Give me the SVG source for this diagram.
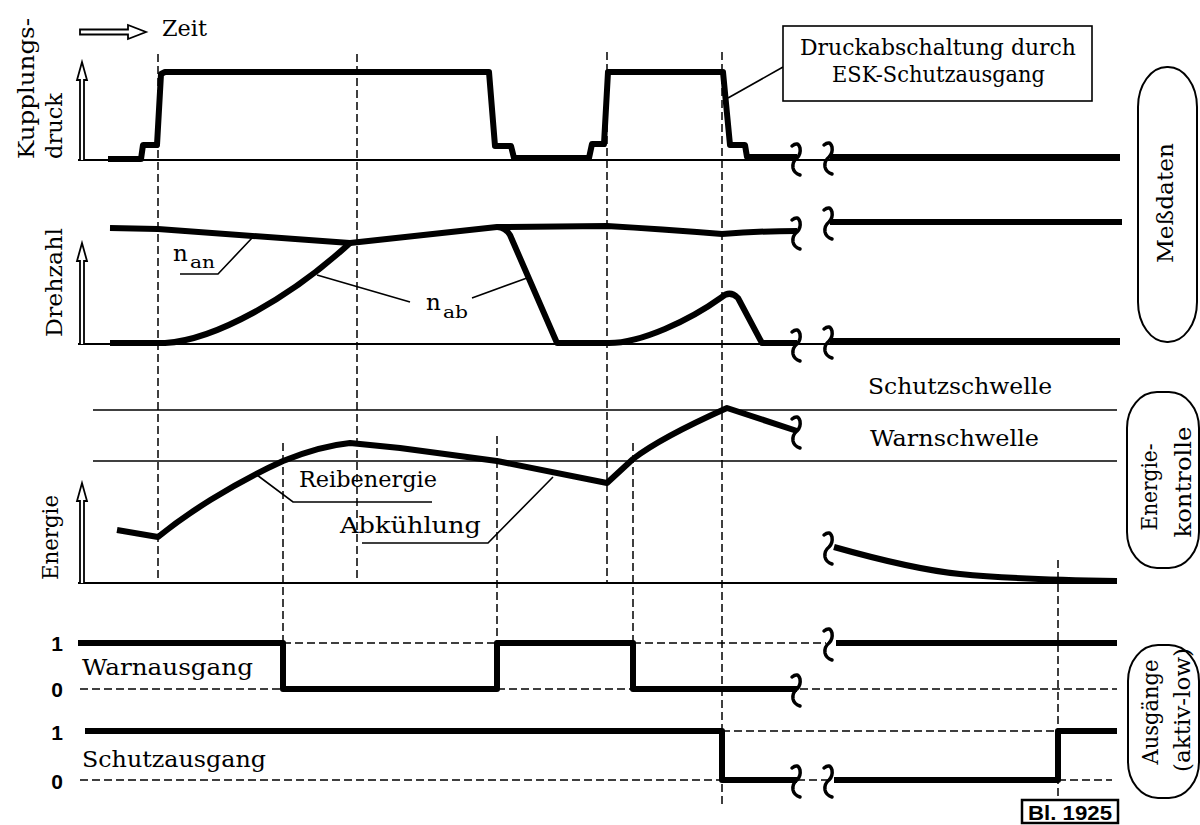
<svg xmlns="http://www.w3.org/2000/svg" width="1200" height="825" viewBox="0 0 1200 825">
<style>
.bg{fill:#fff}
.thin{fill:none;stroke:#000;stroke-width:1.6}
.base{fill:none;stroke:#000;stroke-width:2}
.thick{fill:none;stroke:#000;stroke-width:6;stroke-linejoin:round;stroke-linecap:butt}
.dash{fill:none;stroke:#000;stroke-width:1.5;stroke-dasharray:8 4}
.brk{fill:none;stroke:#000;stroke-width:3.5;stroke-linecap:round}
.hollow{fill:#fff;stroke:#000;stroke-width:1.8;stroke-linejoin:miter}
.t{font-family:"DejaVu Serif","Liberation Serif",serif;font-size:23px;fill:#000}
.sub{font-family:"DejaVu Serif","Liberation Serif",serif;font-size:17px;fill:#000}
.b{font-family:"Liberation Sans",Arial,sans-serif;font-weight:bold;font-size:21px;fill:#000}
.pill{fill:#fff;stroke:#000;stroke-width:2}
</style>
<defs>
<path id="brk" d="M-5,-12 Q1,-17 3,-10 Q4,-4 0,0 Q-5,4 -4,10 Q-3,15 3,17"/>
</defs>
<rect class="bg" x="0" y="0" width="1200" height="825"/>

<g id="time-arrow">
<path class="hollow" d="M80,29.5 H128 V25 L146,32 L128,39 V34.5 H80 Z"/>
<text class="t" x="162" y="36" textLength="45" lengthAdjust="spacingAndGlyphs">Zeit</text>
</g>

<g id="axes">
<line class="base" x1="78" y1="160" x2="1120" y2="160"/>
<line class="base" x1="78" y1="344" x2="1120" y2="344"/>
<line class="base" x1="78" y1="583" x2="1117" y2="583"/>
<path class="hollow" d="M80,160 V80 H77 L82,62 L87,80 H84 V160"/>
<path class="hollow" d="M80,344 V261 H77 L82,243 L87,261 H84 V344"/>
<path class="hollow" d="M80,583 V501 H77 L82,483 L87,501 H84 V583"/>
<line class="thin" x1="93" y1="410" x2="1117" y2="410"/>
<line class="thin" x1="93" y1="461" x2="1117" y2="461"/>
</g>

<g id="axis-labels">
<text class="t" transform="translate(34,159) rotate(-90)" font-size="24" textLength="141" lengthAdjust="spacingAndGlyphs">Kupplungs-</text>
<text class="t" transform="translate(62,159) rotate(-90)" font-size="24" textLength="66" lengthAdjust="spacingAndGlyphs">druck</text>
<text class="t" transform="translate(62,337) rotate(-90)" font-size="24" textLength="109" lengthAdjust="spacingAndGlyphs">Drehzahl</text>
<text class="t" transform="translate(58,580) rotate(-90)" font-size="24" textLength="85" lengthAdjust="spacingAndGlyphs">Energie</text>
<text class="b" x="57" y="651" text-anchor="middle">1</text>
<text class="b" x="57" y="697" text-anchor="middle">0</text>
<text class="b" x="57" y="740" text-anchor="middle">1</text>
<text class="b" x="57" y="789" text-anchor="middle">0</text>
</g>

<g id="connectors">
<line class="dash" x1="158" y1="54" x2="158" y2="583"/>
<line class="dash" x1="357" y1="54" x2="357" y2="583"/>
<line class="dash" x1="607" y1="52" x2="607" y2="583"/>
<line class="dash" x1="722" y1="52" x2="722" y2="806"/>
<line class="dash" x1="283" y1="443" x2="283" y2="689"/>
<line class="dash" x1="497" y1="436" x2="497" y2="689"/>
<line class="dash" x1="633" y1="443" x2="633" y2="689"/>
<line class="dash" x1="1058" y1="560" x2="1058" y2="800"/>
<line class="dash" x1="283" y1="643" x2="497" y2="643"/>
<line class="dash" x1="633" y1="643" x2="826" y2="643"/>
<line class="dash" x1="80" y1="689" x2="283" y2="689"/>
<line class="dash" x1="497" y1="689" x2="633" y2="689"/>
<line class="dash" x1="800" y1="689" x2="1117" y2="689"/>
<line class="dash" x1="80" y1="780" x2="722" y2="780"/>
<line class="dash" x1="797" y1="780" x2="829" y2="780"/>
<line class="dash" x1="722" y1="731" x2="1058" y2="731"/>
<line class="dash" x1="1058" y1="780" x2="1112" y2="780"/>
<polyline class="thin" points="180,274 218,274 252,238"/>
<line class="thin" x1="317" y1="275" x2="410" y2="302"/>
<line class="thin" x1="472" y1="298" x2="527" y2="278"/>
<polyline class="thin" points="257,475 293,502 432,502"/>
<polyline class="thin" points="362,543 488,543 553,477"/>
<line class="thin" x1="728" y1="98" x2="783" y2="67"/>
</g>

<g id="curves">
<path class="thick" d="M108,159 H141 L143,145 H157 L161,74 L165,72 H489 L495,146 H511 L514,158 H589 L592,144 H604 L608,72 H723 L730,145 H745 L747,157 H797"/>
<path class="thick" d="M830,157 H1120"/>
<path class="thick" d="M110,228 L158,229 L350,243 L497,227 L607,226 Q660,229 722,234 Q760,231 797,231"/>
<path class="thick" d="M830,222 H1122"/>
<path class="thick" d="M110,343 L165,343 C215,340 290,298 350,243"/>
<path class="thick" d="M497,227 Q505,227 510,235 L557,343 H607 C640,344 690,320 722,297 Q730,290 738,298 L762,343 H797"/>
<path class="thick" d="M830,341 H1120"/>
<path class="thick" d="M117,530 L158,537 C185,515 230,485 283,461 Q320,446 350,443 L400,448 L497,461 L607,483 L633,459 Q660,438 727,408 L797,431"/>
<path class="thick" d="M834,547 C880,560 920,570 960,574 S1050,580 1117,581"/>
<path class="thick" d="M78,643 H283 V689 H497 V643 H633 V689 H797"/>
<path class="thick" d="M836,643 H1117"/>
<path class="thick" d="M85,731 H722 V780 H797"/>
<path class="thick" d="M834,780 H1058 V731 H1117"/>
</g>

<g id="breaks">
<use href="#brk" class="brk" x="797" y="158"/>
<use href="#brk" class="brk" x="829" y="157"/>
<use href="#brk" class="brk" x="797" y="232"/>
<use href="#brk" class="brk" x="829" y="222"/>
<use href="#brk" class="brk" x="797" y="344"/>
<use href="#brk" class="brk" x="829" y="341"/>
<use href="#brk" class="brk" x="797" y="431"/>
<use href="#brk" class="brk" x="829" y="547"/>
<use href="#brk" class="brk" x="797" y="689"/>
<use href="#brk" class="brk" x="829" y="643"/>
<use href="#brk" class="brk" x="797" y="780"/>
<use href="#brk" class="brk" x="829" y="780"/>
</g>

<g id="curve-labels">
<text class="t" x="173" y="261" font-size="25">n</text>
<text class="sub" x="190" y="268" textLength="25" lengthAdjust="spacingAndGlyphs">an</text>
<text class="t" x="426" y="310" font-size="25">n</text>
<text class="sub" x="443" y="318" textLength="25" lengthAdjust="spacingAndGlyphs">ab</text>
<text class="t" x="299" y="487" textLength="138" lengthAdjust="spacingAndGlyphs">Reibenergie</text>
<text class="t" x="340" y="533" textLength="141" lengthAdjust="spacingAndGlyphs">Abkühlung</text>
<text class="t" x="868" y="394" textLength="184" lengthAdjust="spacingAndGlyphs">Schutzschwelle</text>
<text class="t" x="870" y="446" textLength="169" lengthAdjust="spacingAndGlyphs">Warnschwelle</text>
<text class="t" x="82" y="675" textLength="171" lengthAdjust="spacingAndGlyphs">Warnausgang</text>
<text class="t" x="82" y="767" textLength="184" lengthAdjust="spacingAndGlyphs">Schutzausgang</text>
</g>

<g id="note-box">
<rect x="783" y="26" width="309" height="75" fill="#fff" stroke="#000" stroke-width="1.6"/>
<text class="t" x="800" y="55" font-size="22" textLength="276" lengthAdjust="spacingAndGlyphs">Druckabschaltung durch</text>
<text class="t" x="832" y="82" font-size="22" textLength="213" lengthAdjust="spacingAndGlyphs">ESK-Schutzausgang</text>
</g>

<g id="label-messdaten">
<rect class="pill" x="1138" y="67" width="59" height="275" rx="29" ry="40"/>
<text class="t" transform="translate(1173,203) rotate(-90)" font-size="24" text-anchor="middle" textLength="120" lengthAdjust="spacingAndGlyphs">Meßdaten</text>
</g>

<g id="label-energiekontrolle">
<rect class="pill" x="1127" y="392" width="72" height="176" rx="30" ry="36"/>
<text class="t" transform="translate(1157,487) rotate(-90)" font-size="22" text-anchor="middle" textLength="87" lengthAdjust="spacingAndGlyphs">Energie-</text>
<text class="t" transform="translate(1191,482) rotate(-90)" font-size="22" text-anchor="middle" textLength="111" lengthAdjust="spacingAndGlyphs">kontrolle</text>
</g>

<g id="label-ausgaenge">
<rect class="pill" x="1128" y="645" width="71" height="153" rx="30" ry="36"/>
<text class="t" transform="translate(1158,712) rotate(-90)" font-size="22" text-anchor="middle" textLength="105" lengthAdjust="spacingAndGlyphs">Ausgänge</text>
<text class="t" transform="translate(1190,710) rotate(-90)" font-size="22" text-anchor="middle" textLength="124" lengthAdjust="spacingAndGlyphs">(aktiv-low)</text>
</g>

<g id="sheet-id">
<rect x="1022" y="800" width="96" height="23" fill="#fff" stroke="#000" stroke-width="2.5"/>
<text class="b" x="1070" y="820" font-size="20" text-anchor="middle" textLength="84" lengthAdjust="spacingAndGlyphs">Bl. 1925</text>
</g>
</svg>
